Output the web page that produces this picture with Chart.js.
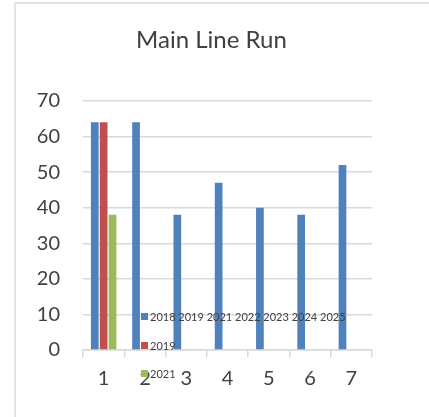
<!DOCTYPE html>
<html>
<head>
<meta charset="utf-8">
<script src="https://cdn.jsdelivr.net/npm/chart.js@4.4.0/dist/chart.umd.min.js"></script>
<style>
  html, body { margin: 0; padding: 0; background: #ffffff; }
  #wrap { position: relative; width: 429px; height: 417px; overflow: hidden; }
  #frame { position: absolute; left: 14px; top: 2px; width: 430px; height: 430px;
           border-left: 2px solid #e3e3e3; border-top: 2px solid #e3e3e3; box-sizing: border-box; }
  canvas { position: absolute; left: 0; top: 0; }
</style>
</head>
<body>
<div id="wrap">
  <div id="frame"></div>
  <canvas id="c" width="429" height="417"></canvas>
</div>
<script>
const chartTitle = 'Main Line Run';
const categories = ['1', '2', '3', '4', '5', '6', '7'];
const seriesLabels = ['2018 2019 2021 2022 2023 2024 2025', '2019', '2021'];
const seriesA = [64, 64, 38, 47, 40, 38, 52];
const seriesB = [64, null, null, null, null, null, null];
const seriesC = [38, null, null, null, null, null, null];
const yMin = 0, yMax = 70, yStep = 10;
const colors = ['#4f81bd', '#c0504d', '#9bbb59'];

const FONT = 'Lato, "Open Sans", sans-serif';
const TEXT = '#404040';

const innerLegend = {
  id: 'innerLegend',
  afterDraw(chart, args, opts) {
    const ctx = chart.ctx;
    ctx.save();
    ctx.font = opts.fontSize + 'px ' + FONT;
    ctx.textBaseline = 'middle';
    ctx.textAlign = 'left';
    chart.data.datasets.forEach((ds, i) => {
      const cy = opts.rows[i];
      ctx.fillStyle = ds.backgroundColor;
      ctx.fillRect(opts.x, cy - opts.box / 2, opts.box, opts.box);
      ctx.fillStyle = TEXT;
      ctx.fillText(ds.label, opts.x + opts.box + 2, cy + 0.5);
    });
    ctx.restore();
  }
};

new Chart(document.getElementById('c'), {
  type: 'bar',
  data: {
    labels: categories,
    datasets: [
      { label: seriesLabels[0], data: seriesA, backgroundColor: colors[0] },
      { label: seriesLabels[1], data: seriesB, backgroundColor: colors[1] },
      { label: seriesLabels[2], data: seriesC, backgroundColor: colors[2] }
    ]
  },
  options: {
    responsive: false,
    animation: false,
    devicePixelRatio: 1,
    categoryPercentage: 0.645,
    barPercentage: 0.87,
    layout: { padding: { left: 0, right: 6, top: 0, bottom: 0 } },
    plugins: {
      legend: { display: false },
      tooltip: { enabled: false },
      title: {
        display: true,
        text: chartTitle,
        color: TEXT,
        font: { family: FONT, size: 24, weight: 'normal', lineHeight: 1.2 },
        padding: { top: 26, bottom: 46.2 }
      },
      innerLegend: { x: 141, rows: [316.5, 345.5, 373.5], box: 7, fontSize: 11 }
    },
    scales: {
      x: {
        grid: { display: true, drawOnChartArea: false, drawTicks: true, tickLength: 7, color: '#d9d9d9', lineWidth: 1.5 },
        border: { display: true, color: '#d9d9d9', width: 1.5 },
        ticks: { color: TEXT, font: { family: FONT, size: 20 }, padding: 10, maxRotation: 0 },
        afterFit(s) { s.height = 67; }
      },
      y: {
        min: yMin, max: yMax,
        grid: { color: '#d9d9d9', lineWidth: 1.5, drawTicks: false },
        border: { display: false },
        ticks: { stepSize: yStep, color: TEXT, font: { family: FONT, size: 20 }, padding: 23 },
        afterFit(s) { s.width = 83; }
      },
      yRight: {
        position: 'right',
        display: true,
        grid: { display: false },
        border: { display: false },
        ticks: { display: false },
        afterFit(s) { s.width = 51; }
      }
    }
  },
  plugins: [innerLegend]
});
</script>
</body>
</html>
